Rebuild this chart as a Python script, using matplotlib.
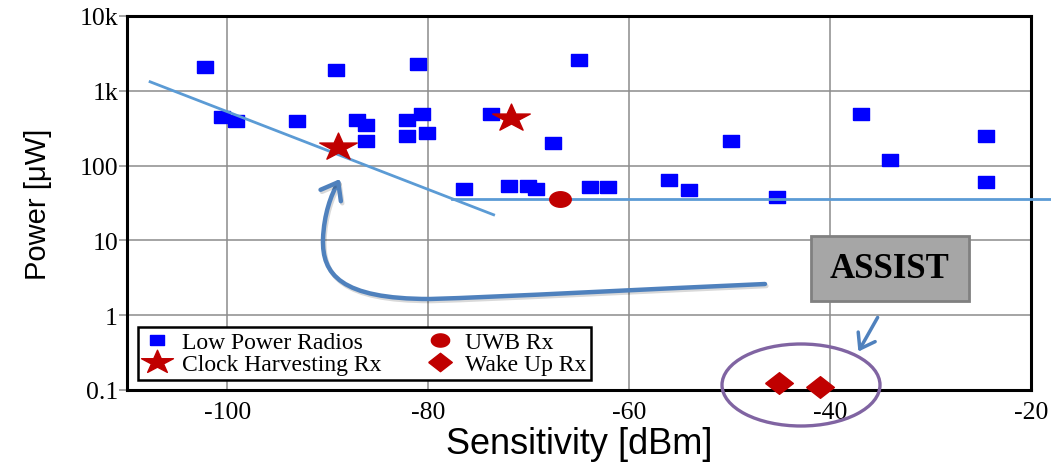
import matplotlib
matplotlib.use('Agg')
import matplotlib.pyplot as plt
import matplotlib.patheffects as pe
from matplotlib.path import Path
from matplotlib.patches import FancyArrowPatch, Ellipse, Rectangle
from matplotlib.ticker import NullLocator
import numpy as np

plt.rcParams['axes.unicode_minus'] = False

W, H = 1051, 464

# receiver survey: sensitivity [dBm] vs power [uW]
radio_x = [-102.2, -100.5, -99.1, -93.1, -89.2, -87.1, -86.2, -86.2, -82.1, -82.1,
           -81.0, -80.6, -80.1, -76.4, -73.8, -72.0, -70.1, -69.3, -67.6, -65.0,
           -63.9, -62.1, -56.0, -54.0, -49.9, -45.3, -36.9, -34.0, -24.5, -24.5]
radio_y = [2100, 450, 400, 400, 1900, 410, 350, 210, 410, 245,
           2300, 490, 275, 49, 490, 53, 53, 49, 203, 2600,
           51, 51, 65, 47, 215, 38, 490, 117, 250, 61]

clock_x = [-89.0, -71.8]
clock_y = [179, 437]

uwb_x = [-66.9]
uwb_y = [36]

wake_x = [-45.1, -41.0]
wake_y = [0.124, 0.11]

# trend lines
slope_x = [-107.7, -73.5]
slope_y = [1320, 22]
floor_x = [-77.6, -17.0]
floor_y = [36, 36]

yticks = [0.1, 1, 10, 100, 1000, 10000]
ytick_labels = ['0.1', '1', '10', '100', '1k', '10k']
xticks = [-100, -80, -60, -40, -20]


def px(x, y):
    return (x / W, 1 - y / H)


# slightly wide marker shapes
rect_m = [(-1, -0.75), (1, -0.75), (1, 0.75), (-1, 0.75), (-1, -0.75)]
star_v = Path.unit_regular_star(5, 0.381966).vertices * [1.37, 1]
star_m = Path(star_v, closed=True)
t = np.linspace(0, 2 * np.pi, 40)
oval_m = list(zip(np.cos(t), 0.72 * np.sin(t)))
diam_m = [(-1, 0), (0, 0.78), (1, 0), (0, -0.78), (-1, 0)]

fig = plt.figure(figsize=(W / 100, H / 100), dpi=100)
ax = fig.add_axes([127 / W, 1 - 391 / H, (1031 - 127) / W, (391 - 17) / H])

ax.plot(radio_x, radio_y, ls='none', marker=rect_m, ms=11.5, color='#0000ff',
        label='Low Power Radios', zorder=3)
ax.plot(slope_x, slope_y, color='#5b9bd5', lw=2, zorder=4)
ax.plot(floor_x, floor_y, color='#5b9bd5', lw=2, zorder=4, clip_on=False)
ax.plot(clock_x, clock_y, ls='none', marker=star_m, ms=27, color='#c00000',
        label='Clock Harvesting Rx', zorder=5)
ax.plot(uwb_x, uwb_y, ls='none', marker=oval_m, ms=15.5, color='#c00000',
        label='UWB Rx', zorder=5)
ax.plot(wake_x, wake_y, ls='none', marker=diam_m, ms=20, color='#c00000',
        label='Wake Up Rx', zorder=5, clip_on=False)

ax.set_xlim(-110, -20)
ax.set_yscale('log')
ax.set_ylim(0.1, 1e4)
ax.set_xticks(xticks)
ax.set_yticks(yticks, ytick_labels)
ax.yaxis.set_minor_locator(NullLocator())
ax.grid(True, color='#8c8c8c', lw=1.1)
ax.set_axisbelow(True)
for s in ax.spines.values():
    s.set_linewidth(2.2)
    s.set_color('black')

ax.tick_params(axis='y', length=5.5, color='#8c8c8c', width=1.1, pad=1)
ax.tick_params(axis='x', length=0, pad=8)
for lab in ax.get_xticklabels() + ax.get_yticklabels():
    lab.set_family('Liberation Serif')
    lab.set_fontsize(18.5)

ax.set_xlabel('Sensitivity [dBm]', family='Liberation Sans', fontsize=26, labelpad=2)
ax.set_ylabel('Power [μW]', family='Liberation Sans', fontsize=21, labelpad=20)

leg = ax.legend(ncol=2, loc='lower left', bbox_to_anchor=(0.012, 0.027),
                borderaxespad=0, fancybox=False, edgecolor='black', framealpha=1,
                prop={'family': 'Liberation Serif', 'size': 17},
                handletextpad=0.45, columnspacing=1.9, labelspacing=0.02,
                borderpad=0.2, handlelength=1.2, markerscale=0.85)
leg.get_frame().set_linewidth(1.8)

# big curved arrow pointing back to the trend line
verts = [px(765, 285),
         px(650, 290), px(500, 298), px(430, 300),
         px(340, 300), px(322, 275), px(323, 240),
         px(324, 215), px(331, 196), px(340, 180)]
codes = [Path.MOVETO] + [Path.CURVE4] * 9
big = FancyArrowPatch(path=Path(verts, codes),
                      arrowstyle='->,head_length=0.55,head_width=0.42',
                      mutation_scale=20, lw=3.2, color='#4f81bd',
                      transform=fig.transFigure, zorder=6)
big.set_path_effects([pe.SimpleLineShadow(offset=(1, -1.5), alpha=0.15), pe.Normal()])
fig.add_artist(big)

# label box and pointer to the wake-up receivers
fig.add_artist(Rectangle(px(811, 302), 158 / W, 65 / H, transform=fig.transFigure,
                         facecolor='#a6a6a6', edgecolor='#808080', lw=2, zorder=6))
fig.text(*px(890, 270), 'ASSIST', ha='center', va='center', fontsize=25,
         fontweight='bold', family='Liberation Serif', zorder=7)
fig.add_artist(FancyArrowPatch(px(879, 316), px(857, 355),
                               arrowstyle='->,head_length=0.5,head_width=0.35',
                               mutation_scale=20, lw=2.5, color='#4f81bd',
                               transform=fig.transFigure, zorder=6))
fig.add_artist(Ellipse(px(801, 386), 158 / W, 82 / H, transform=fig.transFigure,
                       fill=False, edgecolor='#8064a2', lw=2.4, zorder=6))

fig.savefig('out.png', dpi=100)
